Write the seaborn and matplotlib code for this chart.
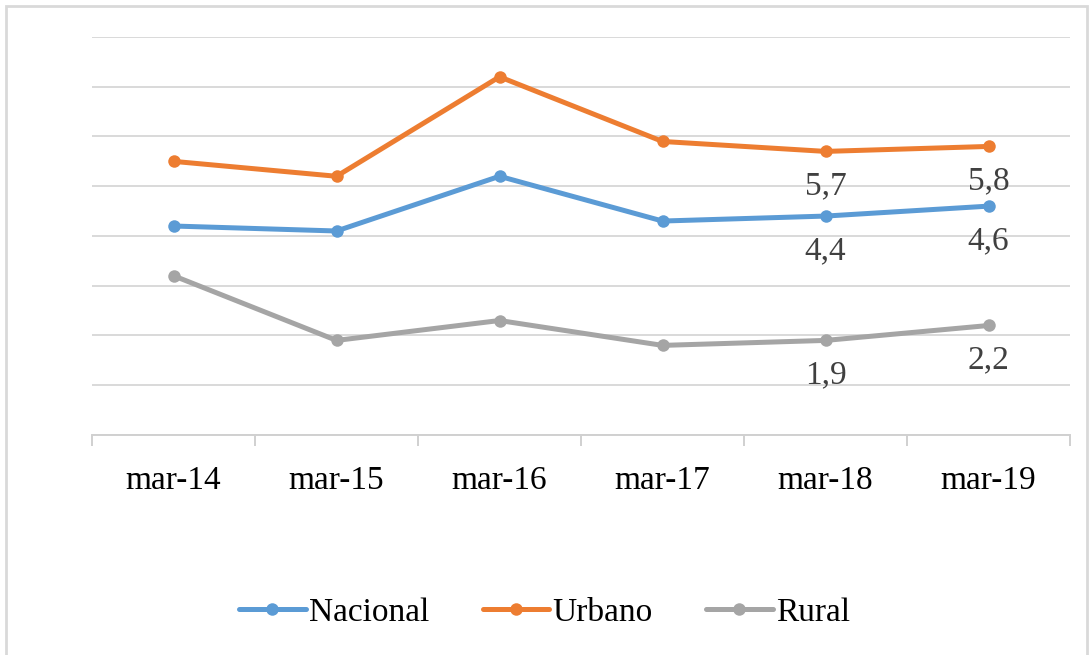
import matplotlib

matplotlib.use('Agg')
import matplotlib.pyplot as plt
import matplotlib.patches as mpatches
import pandas as pd
import seaborn as sns

periods = ['mar-14', 'mar-15', 'mar-16', 'mar-17', 'mar-18', 'mar-19']
nacional = [4.2, 4.1, 5.2, 4.3, 4.4, 4.6]
urbano = [5.5, 5.2, 7.2, 5.9, 5.7, 5.8]
rural = [3.2, 1.9, 2.3, 1.8, 1.9, 2.2]
series_names = ['Nacional', 'Urbano', 'Rural']
colors = ['#5B9BD5', '#ED7D31', '#A5A5A5']
labelled = ['mar-18', 'mar-19']


def plot():
    df = pd.DataFrame({'periodo': periods * 3,
                       'valor': nacional + urbano + rural,
                       'serie': sum([[s] * len(periods) for s in series_names], [])})

    sns.set_style('white')
    plt.rcParams['font.family'] = ['Liberation Serif', 'DejaVu Serif']

    fig = plt.figure(figsize=(10.89, 6.55), dpi=100)
    ax = fig.add_axes([0.0845, 0.336, 0.8981, 0.6075])

    sns.lineplot(data=df, x='periodo', y='valor', hue='serie', palette=colors,
                 marker='o', markersize=9, markeredgewidth=0, linewidth=3.6,
                 sort=False, ax=ax)

    # data labels for the last two periods
    for name, vals in zip(series_names, [nacional, urbano, rural]):
        for i, p in enumerate(periods):
            if p in labelled:
                ax.annotate(f'{vals[i]:.1f}'.replace('.', ','), (i, vals[i]),
                            xytext=(0, -14), textcoords='offset points',
                            ha='center', va='top', fontsize=24, color='#404040')

    ax.set_xlim(-0.5, len(periods) - 0.5)
    ax.set_ylim(0, 8)
    ax.set_yticks(range(0, 9))
    ax.set_yticklabels([])
    ax.tick_params(axis='y', length=0)
    ax.grid(axis='y', color='#D9D9D9', linewidth=1.4)
    ax.set_axisbelow(True)
    for s in ['left', 'right', 'top']:
        ax.spines[s].set_visible(False)
    ax.spines['bottom'].set_color('#D0D0D0')
    ax.spines['bottom'].set_linewidth(1.4)

    ax.set_xticks(range(len(periods)))
    ax.set_xticklabels(periods, fontsize=24, color='black')
    ax.tick_params(axis='x', which='major', length=0, pad=22)
    ax.set_xticks([i - 0.5 for i in range(len(periods) + 1)], minor=True)
    ax.tick_params(axis='x', which='minor', bottom=True, direction='out',
                   length=8, width=1.4, color='#D0D0D0')
    ax.set_xlabel('')
    ax.set_ylabel('')

    ax.legend(loc='center', bbox_to_anchor=(0.5, 0.065), bbox_transform=fig.transFigure,
              ncol=3, frameon=False, fontsize=24, handlelength=2.0,
              handletextpad=0.1, columnspacing=1.6, labelcolor='black')

    fig.patches.append(mpatches.Rectangle((6 / 1089, -0.05), 1081 / 1089, 1.05 - 6 / 655,
                                          transform=fig.transFigure, fill=False,
                                          edgecolor='#D9D9D9', linewidth=2))

    fig.savefig('out.png', dpi=100)


if __name__ == '__main__':
    plot()
